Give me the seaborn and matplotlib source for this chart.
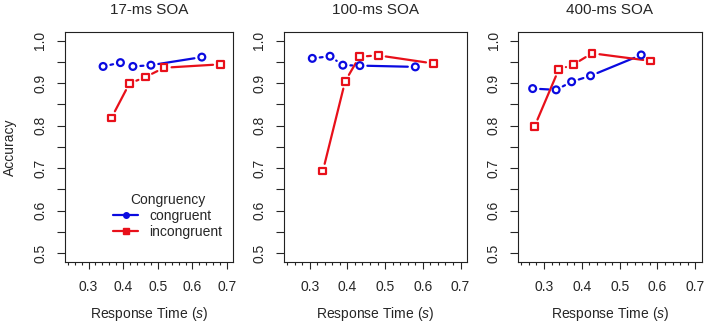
import numpy as np
import pandas as pd
import seaborn as sns
import matplotlib.pyplot as plt
from matplotlib.lines import Line2D
from matplotlib.ticker import FixedLocator

# --- Data ---
panels = ["17-ms SOA", "100-ms SOA", "400-ms SOA"]
congruency_levels = ["congruent", "incongruent"]

rt_congruent = [
    [0.342, 0.392, 0.428, 0.480, 0.627],
    [0.307, 0.354, 0.388, 0.433, 0.580],
    [0.270, 0.332, 0.373, 0.423, 0.557],
]
acc_congruent = [
    [0.939, 0.948, 0.939, 0.942, 0.961],
    [0.958, 0.963, 0.942, 0.941, 0.938],
    [0.887, 0.884, 0.903, 0.917, 0.966],
]
rt_incongruent = [
    [0.366, 0.418, 0.464, 0.518, 0.681],
    [0.335, 0.394, 0.432, 0.482, 0.628],
    [0.275, 0.339, 0.377, 0.427, 0.582],
]
acc_incongruent = [
    [0.818, 0.899, 0.914, 0.936, 0.944],
    [0.693, 0.904, 0.962, 0.965, 0.946],
    [0.798, 0.932, 0.943, 0.970, 0.952],
]

x_major = [0.3, 0.4, 0.5, 0.6, 0.7]
x_minor = [0.24, 0.26, 0.28, 0.32, 0.34, 0.36, 0.38, 0.42, 0.44, 0.46, 0.48,
           0.52, 0.54, 0.56, 0.58, 0.62, 0.64, 0.66, 0.68]
y_major = [0.5, 0.6, 0.7, 0.8, 0.9, 1.0]
y_minor = [0.55, 0.65, 0.75, 0.85, 0.95]

colors = {"congruent": "#0a0ae0", "incongruent": "#e8101a"}
markers = {"congruent": "o", "incongruent": "s"}

rows = []
for p, name in enumerate(panels):
    for lvl, xs, ys in [("congruent", rt_congruent[p], acc_congruent[p]),
                        ("incongruent", rt_incongruent[p], acc_incongruent[p])]:
        for x, y in zip(xs, ys):
            rows.append((name, lvl, x, y))
df = pd.DataFrame(rows, columns=["panel", "congruency", "rt", "acc"])

# --- Style ---
sns.set_style("ticks")
plt.rcParams["font.family"] = ["Liberation Sans", "DejaVu Sans"]
plt.rcParams["mathtext.fontset"] = "custom"
plt.rcParams["mathtext.it"] = "Liberation Sans:italic"
plt.rcParams["mathtext.rm"] = "Liberation Sans"


def gapped_segments(ax, x, y, gap=7.5):
    # R type="b": lines stop short of each point
    pts = ax.transData.transform(np.column_stack([x, y]))
    inv = ax.transData.inverted()
    out = []
    for i in range(len(pts) - 1):
        d = pts[i + 1] - pts[i]
        L = np.hypot(*d)
        if L <= 2 * gap:
            continue
        u = d / L
        a, b = inv.transform([pts[i] + u * gap, pts[i + 1] - u * gap])
        out += [(i, a[0], a[1]), (i, b[0], b[1])]
    return pd.DataFrame(out, columns=["seg", "rt", "acc"])


fig = plt.figure(figsize=(7.06, 3.24), dpi=100)
positions = [
    [65 / 706, 62.3 / 324, 168 / 706, 229.7 / 324],
    [284 / 706, 62.3 / 324, 183 / 706, 229.7 / 324],
    [518.3 / 706, 62.3 / 324, 183.4 / 706, 229.7 / 324],
]

for p, name in enumerate(panels):
    ax = fig.add_axes(positions[p])
    ax.set_xlim(0.232, 0.717)
    ax.set_ylim(0.48, 1.02)
    sub = df[df["panel"] == name]
    for lvl in congruency_levels:
        d = sub[sub["congruency"] == lvl]
        segs = gapped_segments(ax, d["rt"].values, d["acc"].values)
        sns.lineplot(data=segs, x="rt", y="acc", units="seg", estimator=None,
                     color=colors[lvl], lw=1.6, ax=ax, legend=False)
    for lvl in congruency_levels:
        d = sub[sub["congruency"] == lvl]
        ax.scatter(d["rt"], d["acc"], marker=markers[lvl], s=24,
                   facecolors="none", edgecolors=colors[lvl], linewidths=1.6,
                   zorder=3)
    ax.set_xlim(0.232, 0.717)
    ax.set_ylim(0.48, 1.02)

    ax.xaxis.set_major_locator(FixedLocator(x_major))
    ax.xaxis.set_minor_locator(FixedLocator(x_minor))
    ax.yaxis.set_major_locator(FixedLocator(y_major))
    ax.yaxis.set_minor_locator(FixedLocator(y_minor))
    ax.set_xticklabels([f"{v:.1f}" for v in x_major])
    ax.set_yticklabels([f"{v:.1f}" for v in y_major], rotation=90, va="center")
    ax.tick_params(axis="x", which="major", length=5, width=0.8, pad=8, labelsize=10)
    ax.tick_params(axis="x", which="minor", length=2.5, width=0.8)
    ax.tick_params(axis="y", which="both", length=5.8, width=0.8, pad=7, labelsize=10)
    for s in ax.spines.values():
        s.set_visible(True)
        s.set_linewidth(0.8)
        s.set_color("#222222")

    ax.set_title(name, fontsize=11, pad=13)
    ax.set_xlabel("Response Time ($\\mathit{s}$)", fontsize=10, labelpad=8)
    if p == 0:
        ax.set_ylabel("Accuracy", fontsize=10, labelpad=12)
        handles = [Line2D([], [], color=colors[l], marker=markers[l], markersize=4,
                          lw=1.6) for l in congruency_levels]
        ax.legend(handles, congruency_levels, title="Congruency", frameon=False,
                  loc="center", bbox_to_anchor=(0.613, 0.2), fontsize=10,
                  title_fontsize=10, handlelength=1.8, handletextpad=0.8,
                  labelspacing=0.15)
    else:
        ax.set_ylabel("")

fig.savefig("out.png", dpi=100)
